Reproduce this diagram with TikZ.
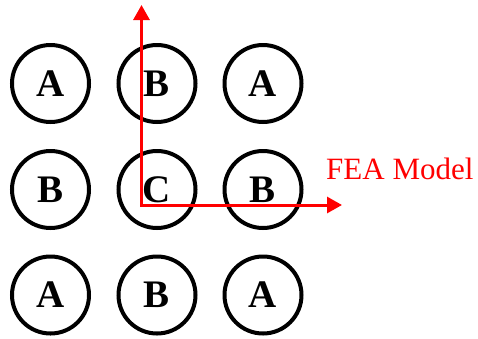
\documentclass[tikz,border=0pt]{standalone}
\usepackage{fontspec}
\setmainfont{Liberation Serif}
\usetikzlibrary{arrows.meta}
\begin{document}
\begin{tikzpicture}[x=1pt,y=-1pt,
  atom/.style={circle,draw=black,line width=4pt,minimum size=77pt,inner sep=0pt,
    font=\fontsize{39}{39}\selectfont\bfseries},
  axis/.style={draw=red,line width=3pt,-{Triangle[length=15pt,width=16pt]}},
  axlabel/.style={text=red,font=\fontsize{31}{31}\selectfont,anchor=base west,inner sep=0pt}]
\useasboundingbox (0,0) rectangle (478,338);
\node[atom] (a11) at (50.5,83.5) {A};
\node[atom] (a12) at (157,83.5) {B};
\node[atom] (a13) at (263,83.5) {A};
\node[atom] (a21) at (50.5,189.5) {B};
\node[atom] (a22) at (157,189.5) {C};
\node[atom] (a23) at (263,189.5) {B};
\node[atom] (a31) at (50.5,295) {A};
\node[atom] (a32) at (157,295) {B};
\node[atom] (a33) at (263,295) {A};
\coordinate (o) at (141.5,205);
\coordinate (ytip) at (141.5,5);
\coordinate (xtip) at (342,205);
\draw[axis] ([yshift=1.5pt]o) -- (ytip);
\draw[axis] ([xshift=-1.5pt]o) -- (xtip);
\node[axlabel] (lbl) at (326,179) {FEA Model};
\end{tikzpicture}
\end{document}
